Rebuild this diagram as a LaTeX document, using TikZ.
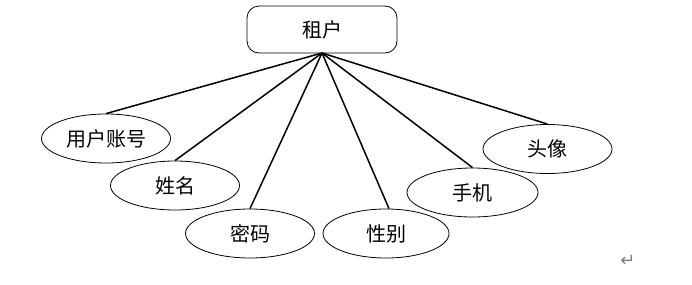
\documentclass[tikz,border=0pt]{standalone}
\usepackage{fontspec}
\newfontfamily\cjk{Noto Sans CJK SC}
\newfontfamily\dejavu{DejaVu Sans}
\usetikzlibrary{shapes.geometric}
\begin{document}
\begin{tikzpicture}[x=1pt,y=-1pt,
  attr/.style={draw,ellipse,line width=0.8pt,minimum width=129pt,minimum height=49pt,inner sep=0pt,font=\cjk\fontsize{20}{24}\selectfont},
  ent/.style={draw,rounded corners=12pt,line width=0.8pt,minimum width=150pt,minimum height=47pt,inner sep=0pt,font=\cjk\fontsize{20}{24}\selectfont},
  link/.style={line width=1.5pt}]
\useasboundingbox (0,0) rectangle (692,284);
\node[ent] (t) at (322,29.5) {租户};
\coordinate (c) at (322,53);
\node[attr] (a1) at (106,138.5) {用户账号};
\node[attr] (a2) at (175,185.5) {姓名};
\node[attr] (a3) at (250,233.5) {密码};
\node[attr,minimum width=126pt] (a4) at (386,233.5) {性别};
\node[attr,minimum width=131pt] (a5) at (472.5,192.5) {手机};
\node[attr] (a6) at (547.5,149) {头像};
\foreach \n in {a1,a2,a3,a5,a6}{\draw[link] (c) -- (\n.north);}
\draw[link] (c) -- ([xshift=3pt]a4.north);
\node[font=\dejavu\fontsize{18}{20}\selectfont,text=gray] (ret) at (628,261) {↵};
\end{tikzpicture}
\end{document}
